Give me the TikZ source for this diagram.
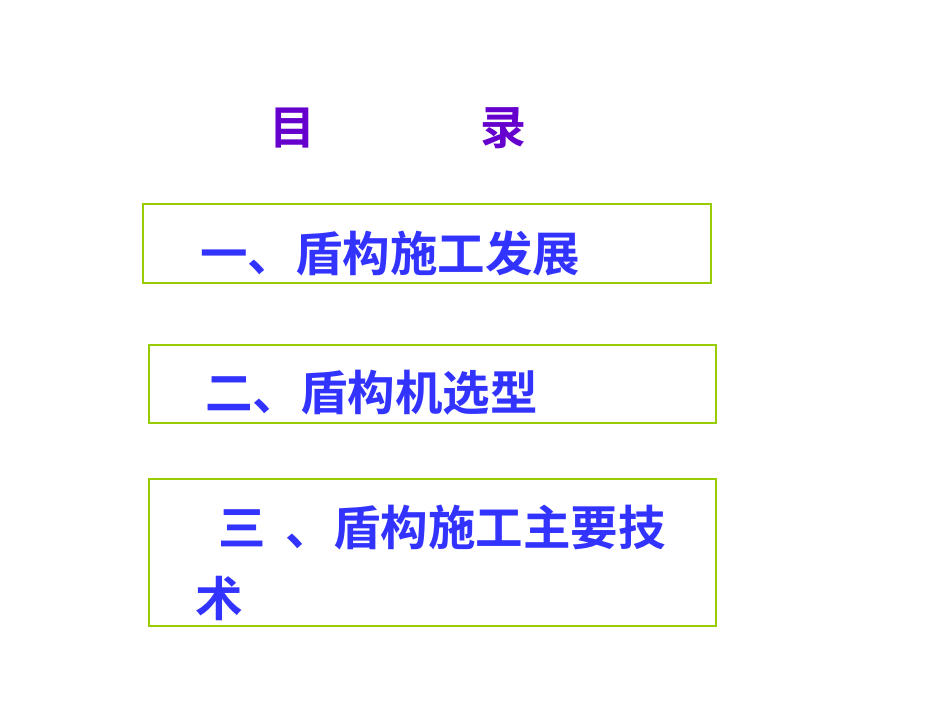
\documentclass[tikz,border=0pt]{standalone}
\usepackage{fontspec}
\newfontfamily\cjk{Noto Sans CJK SC Bold}
\definecolor{boxg}{RGB}{153,204,0}
\definecolor{txtb}{RGB}{51,51,255}
\definecolor{ttl}{RGB}{102,0,204}
\begin{document}
\begin{tikzpicture}[x=1pt,y=-1pt,
  item/.style={anchor=west,inner sep=0pt,text=txtb,font=\cjk\fontsize{47.5}{56}\selectfont},
  frame/.style={draw=boxg,line width=2pt}]
\useasboundingbox (0,0) rectangle (950,713);
\node[inner sep=0pt,text=ttl,font=\cjk\fontsize{46}{54}\selectfont] (t1) at (292,128) {目};
\node[inner sep=0pt,text=ttl,font=\cjk\fontsize{46}{54}\selectfont] (t2) at (503,128) {录};
\draw[frame] (143,204) rectangle (711,283);
\draw[frame] (149,345) rectangle (716,423);
\draw[frame] (149,479) rectangle (716,626);
\node[item] (a) at (200,253) {一、盾构施工发展};
\node[item] (b) at (205,393) {二、盾构机选型};
\node[item] (c) at (218,528) {三\hspace{20pt}、盾构施工主要技};
\node[item] (d) at (195,598) {术};
\end{tikzpicture}
\end{document}
